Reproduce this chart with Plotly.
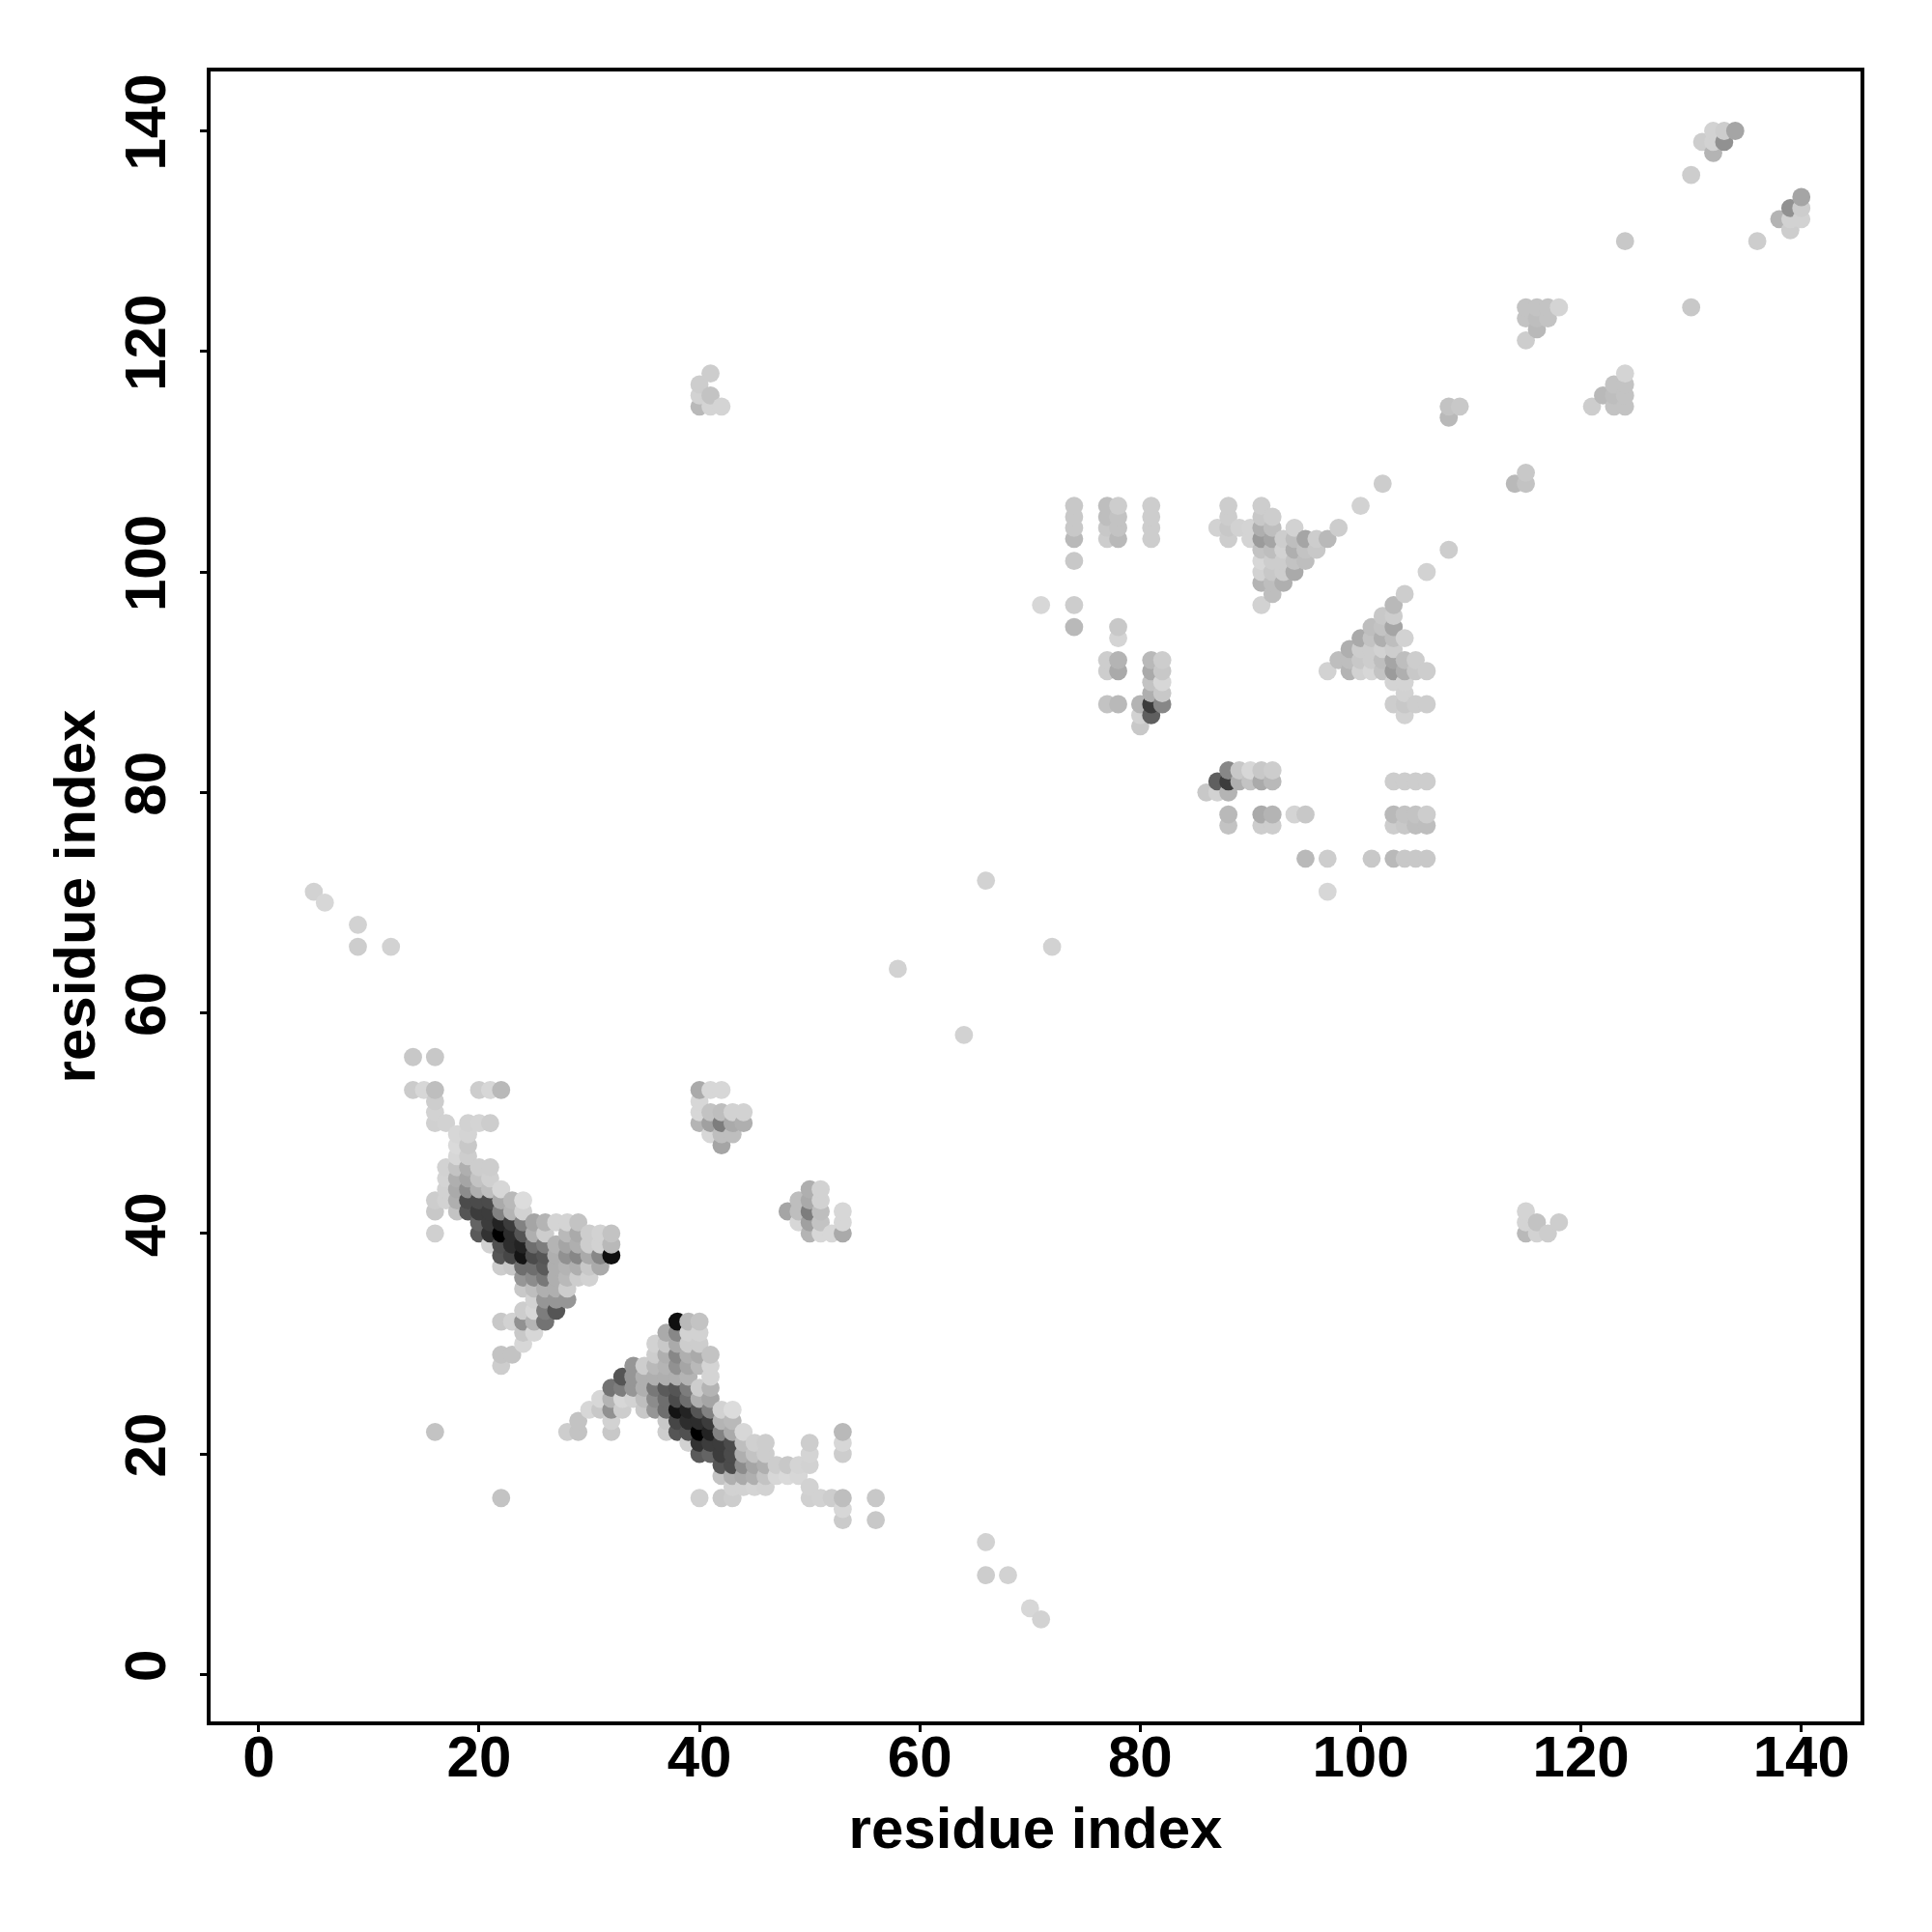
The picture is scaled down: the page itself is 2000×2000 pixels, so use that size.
import plotly.graph_objects as go

# Contacts as (residue_a, residue_b, grey level); the map is symmetric.
strand_tail = [
 (14,56,200),(16,56,200),
 (14,53,203),(15,53,215),(16,53,190),(20,53,205),(21,53,215),(22,53,185),
 (16,52,205),(16,51,210),
 (16,50,208),(17,50,210),(19,50,210),(20,50,212),(21,50,205),
 (18,49,215),(19,49,212),(18,48,218),(19,48,200),(18,47,215),(19,47,205),
 (17,46,210),(18,46,195),(19,46,175),(20,46,205),(21,46,205),
 (17,45,212),(18,45,175),(19,45,165),(20,45,195),(21,45,208),
 (17,44,210),(18,44,170),(19,44,140),(20,44,175),(21,44,190),(22,44,215),
]
strand_core = [
 (16,43,205),(17,43,210),(18,43,175),(19,43,75),(20,43,75),(21,43,75),(22,43,170),(23,43,185),(24,43,220),
 (16,42,200),(18,42,195),(19,42,85),(20,42,60),(21,42,60),(22,42,130),(23,42,180),(24,42,210),
 (20,41,100),(21,41,60),(22,41,35),(23,41,60),(24,41,130),(25,41,165),(26,41,180),(27,41,212),(28,41,212),(29,41,195),
 (16,40,208),(20,40,90),(21,40,50),(22,40,0),(23,40,45),(24,40,85),(25,40,175),(26,40,205),(28,40,185),(29,40,170),(30,40,205),(31,40,210),(32,40,195),
 (21,39,210),(22,39,80),(23,39,45),(24,39,35),(25,39,110),(26,39,125),(27,39,180),(28,39,165),(29,39,175),(30,39,205),(31,39,210),(32,39,185),
 (22,38,85),(23,38,70),(24,38,20),(25,38,75),(26,38,85),(27,38,175),(28,38,145),(29,38,135),(30,38,170),(31,38,135),(32,38,15),
]
strand_foot = [
 (22,37,205),(23,37,200),(24,37,110),(25,37,110),(26,37,90),(27,37,175),(28,37,180),(29,37,175),(30,37,200),(31,37,170),
 (24,36,150),(25,36,140),(26,36,120),(27,36,175),(28,36,185),(29,36,205),(30,36,210),
 (24,35,200),(25,35,190),(26,35,175),(27,35,175),(28,35,205),
 (25,34,210),(26,34,150),(27,34,150),(28,34,150),
 (24,33,205),(25,33,215),(26,33,125),(27,33,85),
 (22,32,200),(23,32,210),(24,32,145),(25,32,180),(26,32,115),
 (24,31,200),(25,31,215),(24,30,215),(22,29,195),(23,29,195),(22,28,205),(16,22,195),
]
loop_patch = [
 (40,53,170),(41,53,215),(42,53,215),(40,52,215),
 (40,51,215),(41,51,195),(42,51,190),(43,51,210),(44,51,210),
 (40,50,180),(41,50,160),(42,50,125),(43,50,170),(44,50,175),
 (41,49,215),(42,49,190),(43,49,190),(42,48,165),
 (41,118,205),(40,117,205),(40,116,210),(41,116,195),(40,115,185),(41,115,212),(42,115,212),
]
sparse_links = [
 (5,71,210),(6,70,215),(9,68,210),(9,66,205),(12,66,210),(58,64,210),(66,72,210),(71,97,215),
 (100,106,210),(102,108,205),(108,114,185),(108,115,195),(109,115,200),(124,130,200),(130,136,205),
]
middle_columns = [
 (74,106,200),(74,105,200),(74,104,200),(74,103,185),(74,101,200),(74,97,205),(74,95,185),
 (77,106,190),(77,105,190),(77,104,200),(77,103,205),(78,106,205),(78,105,195),(78,104,195),(78,103,185),
 (81,106,205),(81,105,205),(81,104,205),(81,103,205),
 (78,95,200),(78,94,212),(77,92,205),(77,91,205),(78,92,180),(78,91,170),(77,88,195),(78,88,185),
 (81,92,185),(81,91,170),(81,90,195),(81,89,175),(81,88,60),(81,87,95),
 (82,92,205),(82,91,200),(82,90,215),(82,89,200),(82,88,135),
 (80,88,180),(80,87,210),(80,86,200),
]
middle_triangle = [
 (88,106,205),(91,106,205),(88,105,205),(91,105,200),(92,105,205),
 (87,104,210),(88,104,200),(89,104,210),(90,104,212),(91,104,175),(92,104,190),(94,104,210),(98,104,205),
 (88,103,205),(90,103,212),(91,103,155),(92,103,165),(93,103,205),(94,103,190),(95,103,165),(96,103,205),(97,103,185),
 (91,102,195),(92,102,190),(93,102,210),(94,102,175),(95,102,195),(96,102,200),
 (91,101,215),(92,101,205),(93,101,205),(94,101,195),(95,101,190),
 (91,100,210),(92,100,200),(93,100,205),(94,100,170),
 (91,99,180),(92,99,190),(93,99,175),(92,98,190),(91,97,210),
]
c_terminal = [
 (115,124,195),(116,124,195),(117,124,195),(118,124,212),(115,123,195),(116,123,190),(117,123,195),
 (116,122,185),(115,121,205),
 (132,140,210),(133,140,205),(134,140,165),(131,139,205),(132,139,210),(133,139,145),(132,138,180),
]

half = strand_tail + strand_core + strand_foot + loop_patch + sparse_links + middle_columns + middle_triangle + c_terminal
points = sorted(set(half + [(b, a, g) for a, b, g in half]), key=lambda p: (p[0], p[1]))
res_x = [p[0] for p in points]
res_y = [p[1] for p in points]
grey = [f"rgb({p[2]},{p[2]},{p[2]})" for p in points]

tick_vals = [0, 20, 40, 60, 80, 100, 120, 140]
axis_label = "residue index"
FONT = "Liberation Sans"

fig = go.Figure(go.Scatter(x=res_x, y=res_y, mode="markers",
                           marker=dict(size=18.8, color=grey, line=dict(width=0))))
axis = dict(tickvals=tick_vals, showgrid=False, zeroline=False, showline=True, mirror=True,
            linecolor="black", linewidth=4, ticks="outside", ticklen=7, tickwidth=3, tickcolor="black",
            tickfont=dict(family=FONT, size=60, color="black", weight=700))
title_font = dict(family=FONT, size=60, color="black", weight=700)
# The page body sits 8px in from the window edge, so margins are offset by that amount.
fig.update_layout(width=2000, height=2000, margin=dict(l=210, r=82, t=66, b=226, pad=0),
                  plot_bgcolor="white", paper_bgcolor="white", showlegend=False)
fig.update_xaxes(**axis, range=[-4.37, 145.37], ticklabelstandoff=-26,
                 title=dict(text=axis_label, font=title_font, standoff=21))
fig.update_yaxes(**axis, range=[-4.26, 145.39], tickangle=-90, ticklabelstandoff=12,
                 title=dict(text=axis_label, font=title_font, standoff=0))
fig.write_html("out.html")
